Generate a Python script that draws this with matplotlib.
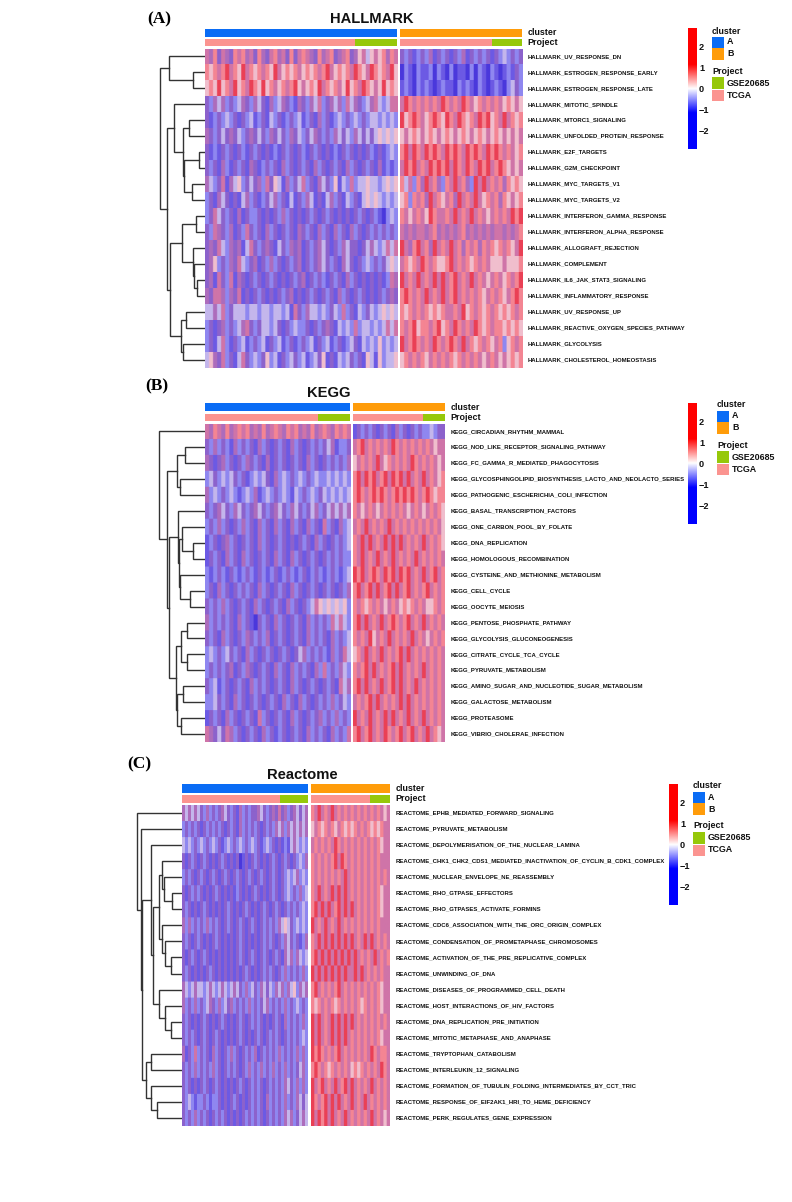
import numpy as np
import matplotlib
matplotlib.use('Agg')
import matplotlib.pyplot as plt
import matplotlib.colors as mpc

W, H = 792, 1202

SANS = ['Liberation Sans', 'DejaVu Sans']
SERIF = ['Liberation Serif', 'DejaVu Serif']

# cell shades as seen in the picture, blue end first (the source is downsampled, so stripes blend to purple)
CELL_SHADES = ['#4a38dc', '#6c5ae4', '#8f87f0', '#c4b6ec', '#8c62cc',
               '#ad6cbc', '#cf74a8', '#f0becd', '#f48593', '#ea4055']

HALLMARK_ROWS = [
    'HALLMARK_UV_RESPONSE_DN', 'HALLMARK_ESTROGEN_RESPONSE_EARLY', 'HALLMARK_ESTROGEN_RESPONSE_LATE',
    'HALLMARK_MITOTIC_SPINDLE', 'HALLMARK_MTORC1_SIGNALING', 'HALLMARK_UNFOLDED_PROTEIN_RESPONSE',
    'HALLMARK_E2F_TARGETS', 'HALLMARK_G2M_CHECKPOINT', 'HALLMARK_MYC_TARGETS_V1', 'HALLMARK_MYC_TARGETS_V2',
    'HALLMARK_INTERFERON_GAMMA_RESPONSE', 'HALLMARK_INTERFERON_ALPHA_RESPONSE', 'HALLMARK_ALLOGRAFT_REJECTION',
    'HALLMARK_COMPLEMENT', 'HALLMARK_IL6_JAK_STAT3_SIGNALING', 'HALLMARK_INFLAMMATORY_RESPONSE',
    'HALLMARK_UV_RESPONSE_UP', 'HALLMARK_REACTIVE_OXYGEN_SPECIES_PATHWAY', 'HALLMARK_GLYCOLYSIS',
    'HALLMARK_CHOLESTEROL_HOMEOSTASIS',
]
KEGG_ROWS = [
    'KEGG_CIRCADIAN_RHYTHM_MAMMAL', 'KEGG_NOD_LIKE_RECEPTOR_SIGNALING_PATHWAY', 'KEGG_FC_GAMMA_R_MEDIATED_PHAGOCYTOSIS',
    'KEGG_GLYCOSPHINGOLIPID_BIOSYNTHESIS_LACTO_AND_NEOLACTO_SERIES', 'KEGG_PATHOGENIC_ESCHERICHIA_COLI_INFECTION',
    'KEGG_BASAL_TRANSCRIPTION_FACTORS', 'KEGG_ONE_CARBON_POOL_BY_FOLATE', 'KEGG_DNA_REPLICATION',
    'KEGG_HOMOLOGOUS_RECOMBINATION', 'KEGG_CYSTEINE_AND_METHIONINE_METABOLISM', 'KEGG_CELL_CYCLE', 'KEGG_OOCYTE_MEIOSIS',
    'KEGG_PENTOSE_PHOSPHATE_PATHWAY', 'KEGG_GLYCOLYSIS_GLUCONEOGENESIS', 'KEGG_CITRATE_CYCLE_TCA_CYCLE',
    'KEGG_PYRUVATE_METABOLISM', 'KEGG_AMINO_SUGAR_AND_NUCLEOTIDE_SUGAR_METABOLISM', 'KEGG_GALACTOSE_METABOLISM',
    'KEGG_PROTEASOME', 'KEGG_VIBRIO_CHOLERAE_INFECTION',
]
REACTOME_ROWS = [
    'REACTOME_EPHB_MEDIATED_FORWARD_SIGNALING', 'REACTOME_PYRUVATE_METABOLISM',
    'REACTOME_DEPOLYMERISATION_OF_THE_NUCLEAR_LAMINA',
    'REACTOME_CHK1_CHK2_CDS1_MEDIATED_INACTIVATION_OF_CYCLIN_B_CDK1_COMPLEX', 'REACTOME_NUCLEAR_ENVELOPE_NE_REASSEMBLY',
    'REACTOME_RHO_GTPASE_EFFECTORS', 'REACTOME_RHO_GTPASES_ACTIVATE_FORMINS',
    'REACTOME_CDC6_ASSOCIATION_WITH_THE_ORC_ORIGIN_COMPLEX', 'REACTOME_CONDENSATION_OF_PROMETAPHASE_CHROMOSOMES',
    'REACTOME_ACTIVATION_OF_THE_PRE_REPLICATIVE_COMPLEX', 'REACTOME_UNWINDING_OF_DNA',
    'REACTOME_DISEASES_OF_PROGRAMMED_CELL_DEATH', 'REACTOME_HOST_INTERACTIONS_OF_HIV_FACTORS',
    'REACTOME_DNA_REPLICATION_PRE_INITIATION', 'REACTOME_MITOTIC_METAPHASE_AND_ANAPHASE',
    'REACTOME_TRYPTOPHAN_CATABOLISM', 'REACTOME_INTERLEUKIN_12_SIGNALING',
    'REACTOME_FORMATION_OF_TUBULIN_FOLDING_INTERMEDIATES_BY_CCT_TRIC',
    'REACTOME_RESPONSE_OF_EIF2AK1_HRI_TO_HEME_DEFICIENCY', 'REACTOME_PERK_REGULATES_GENE_EXPRESSION',
]

HALLMARK_A = [
    '658465 486856 485468 564846 865485 684568 457637 678586',
    '878689 687968 786879 678786 787868 967878 698769 878697',
    '787978 697869 879786 786897 678796 878679 786987 679787',
    '425352 423542 534152 354215 425362 453526 354235 632366',
    '412423 241423 124132 412423 124152 412324 232423 323232',
    '542434 543245 434254 342543 243542 425343 253434 373737',
    '412142 414214 241412 142414 214241 412142 414142 141232',
    '424152 142415 412424 152414 241524 142415 241424 151212',
    '532461 537243 452647 315243 624153 427132 623373 323737',
    '241534 141352 412435 241314 253141 352413 241373 732323',
    '246342 415142 241414 252414 142414 241414 142414 210232',
    '426542 514264 241524 142415 424152 415241 524142 424242',
    '454632 545136 424541 342545 142453 414253 441435 323636',
    '457242 546324 514252 414245 142453 424153 414232 424373',
    '451642 615414 241424 141424 514242 142415 241414 141265',
    '546652 546141 424141 424514 142414 241524 142414 142454',
    '335362 433323 323323 323164 253323 243262 413243 237373',
    '241452 423564 243323 414232 241424 541323 262332 323636',
    '241362 142312 423142 312412 423142 312412 341323 272323',
    '375462 413642 324723 142342 312347 141323 424173 172337',
]
HALLMARK_B = [
    '424124 251424 142514 242414 232424',
    '021021 120210 201102 021021 012142',
    '121021 210121 102121 021012 102342',
    '698686 868698 686986 786868 678767',
    '978986 789879 869878 698978 696878',
    '767876 787678 767876 787678 767676',
    '896986 989869 898698 986989 868678',
    '698968 698989 698698 698968 987676',
    '836285 968528 696852 969686 858787',
    '782868 596876 859686 967868 587678',
    '867686 798668 696869 686768 686989',
    '656566 568565 656856 565656 656568',
    '965896 859686 968586 858687 868769',
    '687869 868778 968687 868677 767778',
    '968696 869696 896869 686768 678689',
    '898686 968696 896868 687686 876898',
    '878686 878786 686978 687868 787868',
    '868978 868978 698686 987868 878787',
    '968986 869868 986968 786876 827868',
    '786868 768686 878686 867686 767878',
]
KEGG_A = [
    '658658 568685 658568 658685 658568 658686',
    '425242 152424 152414 241524 142424 351224',
    '541452 414254 241514 241424 152414 242425',
    '234232 342412 323415 232423 242322 323232',
    '523242 321232 512324 232132 423243 232323',
    '424534 253424 534245 342534 243524 353535',
    '242524 142524 152415 241524 152416 241523',
    '124145 241424 152414 241414 241524 142423',
    '142415 241524 142415 241524 142414 242422',
    '212421 421242 142124 124212 412421 242123',
    '241524 142424 152414 241524 142414 241425',
    '424252 414241 524142 415241 423673 737372',
    '524242 415241 042415 241424 152424 263632',
    '424152 414254 242514 241424 152424 152423',
    '232423 424152 414241 424143 524242 152463',
    '242424 514254 142415 241524 241526 242532',
    '423124 142415 242414 241524 142414 241635',
    '223424 152414 241424 152415 241424 252432',
    '142415 241424 162414 241524 142452 425242',
    '654346 524142 415241 241424 152424 152426',
]
KEGG_B = [
    '142424 142415 241424 223244',
    '689686 868698 686868 686766',
    '768686 967868 686986 868676',
    '896989 689698 969686 968678',
    '898689 898689 898986 898788',
    '867686 768686 867686 768687',
    '686968 686968 686868 686867',
    '869696 869696 968686 968687',
    '869686 968696 868696 868686',
    '989689 869896 989686 968968',
    '896896 968969 689686 896868',
    '868786 867686 787868 677868',
    '896968 696898 689686 968686',
    '868697 686968 686968 676868',
    '786968 696868 969686 868686',
    '868969 686896 968686 968686',
    '896968 696896 968696 868686',
    '686896 968686 969686 868686',
    '968696 869696 869686 968686',
    '896896 869868 968968 696876',
]
REACTOME_A = [
    '535353 425242 453424 152424 453424 546452 453435',
    '242424 142424 241424 152424 241424 253525 353535',
    '323242 324232 412324 232423 241232 414121 353232',
    '414241 424141 424141 401414 241414 241424 142325',
    '242414 241424 142414 241424 142414 241423 235232',
    '414242 414142 414141 241414 241414 241423 242523',
    '424141 424141 414241 414241 414241 424142 424232',
    '525242 425242 414241 424142 414242 425373 423232',
    '424142 414142 414141 424141 414242 414253 424125',
    '414241 424141 414141 424142 414241 424153 525323',
    '424141 414241 414141 414241 414242 414252 424252',
    '532353 323532 353235 342523 425343 253525 372535',
    '524252 423542 523452 424252 424352 424252 423242',
    '424141 424141 424141 424142 424141 424152 424252',
    '424241 424142 414141 424141 424142 424142 424232',
    '514262 424152 414252 414242 514242 425242 425252',
    '424252 424252 414242 414252 425242 524252 424352',
    '424141 424142 414141 424142 424142 424253 425252',
    '423212 242122 414142 414142 424152 424252 425343',
    '424252 424142 424141 414242 424142 424253 524353',
]
REACTOME_B = [
    '869686 968686 868686 868676',
    '768786 876878 786868 787866',
    '686868 698686 868686 868766',
    '868686 896986 868686 868666',
    '868686 868696 868686 868686',
    '869686 969696 868686 868766',
    '896969 689696 968686 868766',
    '968696 869686 868686 868666',
    '869696 969696 968696 968686',
    '896969 696969 696868 696868',
    '969696 969696 696968 686866',
    '896868 689686 868686 868766',
    '878686 878686 868786 868766',
    '969686 969696 968686 868686',
    '969686 969696 868686 868766',
    '989868 689686 868686 986886',
    '898687 868686 787868 686986',
    '968968 696896 968686 968686',
    '986896 969686 968696 868686',
    '969896 968696 868686 968676',
]

# dendrograms as nested (height, left, right), leaves are row numbers
HALLMARK_TREE = (45, (36, 0, (12, 1, 2)),
                 (38, (31, 3, (22, (16, 4, 5), (21, (6, 6, 7), (13, 8, 9)))),
                  (35, (23, (9, 10, 11), (12, 12, (11, 13, (8, 14, 15)))),
                   (24, (19, 16, 17), (22, 18, 19)))))
KEGG_TREE = (46, 0,
             (38, (28, (20, 1, 2), (25, 3, 4)),
              (36, (27, 5, (26, (23, 6, (12, 7, 8)), (25, 9, (15, 10, 11)))),
               (29, (24, (18, 12, 13), (18.5, 14, 15)), (28, (22, 16, 17), (24, 18, 19))))))
REACTOME_TREE = (45, 0,
                 (41, 1,
                  (40, (31, 2,
                        (29, (23, (20, 3, (18, 4, (10, 5, 6))), (20, 7, (17, 8, (11, 9, 10)))),
                         (23, 11, (17, 12, (11, 13, 14))))),
                   (36, (31, 15, 16), (31, 17, (25, 18, 19))))))

# sample counts in each block: (TCGA, GSE20685)
HALLMARK_PROJECT = [(150, 42), (92, 30)]
KEGG_PROJECT = [(113, 32), (70, 22)]
REACTOME_PROJECT = [(98, 28), (59, 20)]

CLUSTER_COLORS = ['#0a6cf5', '#ff9c0a']
PROJECT_COLORS = ['#fb9490', '#96c80a']
LEGEND_CLUSTER = ['A', 'B']
LEGEND_PROJECT = ['GSE20685', 'TCGA']
BAR_TICKS = [2, 1, 0, -1, -2]
BAR_RANGE = 2.9


def px_axes(fig, x0, y0, x1, y1):
    return fig.add_axes([x0 / W, 1 - y1 / H, (x1 - x0) / W, (y1 - y0) / H])


def px_text(fig, x, y, s, size, family=SANS, weight='bold', ha='left', color='#111111'):
    fig.text(x / W, 1 - y / H, s, fontsize=size, family=family, weight=weight, ha=ha, va='center', color=color)


def read_rows(rows):
    return np.array([[int(c) for c in row.replace(' ', '')] for row in rows])


def draw_tree(ax, node):
    # returns (row position, height) of the node
    if not isinstance(node, tuple):
        return node + 0.5, 0
    height, left, right = node
    y_l, h_l = draw_tree(ax, left)
    y_r, h_r = draw_tree(ax, right)
    ax.plot([h_l, height, height, h_r], [y_l, y_l, y_r, y_r], color='#333333', lw=1.0, solid_joinstyle='miter')
    return (y_l + y_r) / 2, height


def draw_heat_block(fig, values, cmap, x0, x1, y0, y1):
    ax = px_axes(fig, x0, y0, x1, y1)
    # rows repeated so the blur only softens the stripes, not the row edges; columns a little to keep them crisp
    big = np.repeat(np.repeat(values, 16, axis=0), 3, axis=1)
    ax.imshow(big, cmap=cmap, vmin=-0.5, vmax=9.5, aspect='auto',
              interpolation='bilinear', interpolation_stage='rgba')
    ax.axis('off')


def draw_annotation(fig, counts, colors, x0, x1, y0, y1):
    ax = px_axes(fig, x0, y0, x1, y1)
    left = 0
    for count, color in zip(counts, colors):
        ax.barh(0, count, left=left, height=1, color=color, lw=0)
        left += count
    ax.set_xlim(0, left)
    ax.set_ylim(-0.5, 0.5)
    ax.axis('off')


def draw_colorbar(fig, x0, y0, cmap):
    ax = px_axes(fig, x0, y0, x0 + 8.5, y0 + 121)
    grad = np.linspace(BAR_RANGE, -BAR_RANGE, 256).reshape(-1, 1)
    ax.imshow(grad, cmap=cmap, vmin=-BAR_RANGE, vmax=BAR_RANGE, aspect='auto',
              extent=[0, 1, -BAR_RANGE, BAR_RANGE])
    ax.set_xticks([])
    ax.yaxis.tick_right()
    ax.set_yticks(BAR_TICKS)
    ax.set_yticklabels([str(t).replace('-', '\u2212') for t in BAR_TICKS], family=SANS, weight='bold',
                       fontsize=6.6, color='#111111')
    ax.tick_params(axis='y', length=0, pad=2.2)
    for spine in ax.spines.values():
        spine.set_visible(False)


def draw_legend(fig, x, y):
    ax = px_axes(fig, x, y, x + 12, y + 70)
    ax.set_xlim(0, 1)
    ax.set_ylim(70, 0)
    ax.axis('off')
    ax.bar(0.5, 11.5, bottom=[5.5, 17], width=1, color=CLUSTER_COLORS, lw=0)
    ax.bar(0.5, 11.5, bottom=[46, 58.5], width=1, color=PROJECT_COLORS[::-1], lw=0)
    px_text(fig, x, y, 'cluster', 6.4)
    px_text(fig, x, y + 40, 'Project', 6.4)
    for name, off in zip(LEGEND_CLUSTER, [11, 23]):
        px_text(fig, x + 15, y + off, name, 6.4)
    for name, off in zip(LEGEND_PROJECT, [52, 64]):
        px_text(fig, x + 15, y + off, name, 6.4)


def draw_panel(fig, cfg, shades, bar_cmap):
    x0, x1 = cfg['left']
    x2, x3 = cfg['right']
    y0, y1 = cfg['rows_y']
    draw_heat_block(fig, read_rows(cfg['a']), shades, x0, x1, y0, y1)
    draw_heat_block(fig, read_rows(cfg['b']), shades, x2, x3, y0, y1)

    ay0, ay1, by0, by1 = cfg['annot_y']
    for (xa, xb), color, counts in zip((cfg['left'], cfg['right']), CLUSTER_COLORS, cfg['project']):
        draw_annotation(fig, [sum(counts)], [color], xa, xb, ay0, ay1)
        draw_annotation(fig, counts, PROJECT_COLORS, xa, xb, by0, by1)

    # tree axis uses the height units directly, zero at the heatmap edge
    tree = px_axes(fig, x0 - 48, y0, x0, y1)
    draw_tree(tree, cfg['tree'])
    tree.set_xlim(48, 0)
    tree.set_ylim(len(cfg['rows']), 0)
    tree.axis('off')

    lab_x = x3 + 5.5
    step = (y1 - y0) / len(cfg['rows'])
    for i, name in enumerate(cfg['rows']):
        px_text(fig, lab_x, y0 + (i + 0.5) * step, name, 4.3)
    px_text(fig, lab_x, (ay0 + ay1) / 2, 'cluster', 6.4)
    px_text(fig, lab_x, (by0 + by1) / 2, 'Project', 6.4)

    px_text(fig, cfg['title_xy'][0], cfg['title_xy'][1], cfg['title'], 10.6, ha='center')
    px_text(fig, cfg['tag_xy'][0], cfg['tag_xy'][1], cfg['tag'], 12.5, family=SERIF, color='black')
    draw_colorbar(fig, cfg['bar_xy'][0], cfg['bar_xy'][1], bar_cmap)
    draw_legend(fig, cfg['legend_xy'][0], cfg['legend_xy'][1])


def main():
    shades = mpc.ListedColormap(CELL_SHADES)
    bar_cmap = mpc.LinearSegmentedColormap.from_list(
        'bwr_bar', [(0, '#0000ff'), (0.3, '#0000ff'), (0.5, '#ffffff'), (0.7, '#ff0000'), (1, '#ff0000')])

    panels = [
        dict(a=HALLMARK_A, b=HALLMARK_B, rows=HALLMARK_ROWS, tree=HALLMARK_TREE, project=HALLMARK_PROJECT,
             left=(205, 397), right=(400, 522), rows_y=(48.5, 368), annot_y=(29, 36.5, 38.5, 46),
             title='HALLMARK', title_xy=(372, 19), tag='(A)', tag_xy=(147, 19),
             bar_xy=(687.5, 28), legend_xy=(712, 31)),
        dict(a=KEGG_A, b=KEGG_B, rows=KEGG_ROWS, tree=KEGG_TREE, project=KEGG_PROJECT,
             left=(205, 350), right=(353, 445), rows_y=(423.5, 742), annot_y=(403.5, 411, 413.5, 421),
             title='KEGG', title_xy=(329, 393), tag='(B)', tag_xy=(145, 386),
             bar_xy=(687.5, 403), legend_xy=(717, 405)),
        dict(a=REACTOME_A, b=REACTOME_B, rows=REACTOME_ROWS, tree=REACTOME_TREE, project=REACTOME_PROJECT,
             left=(182, 308), right=(311, 390), rows_y=(805, 1126), annot_y=(784, 792.5, 794.5, 802.5),
             title='Reactome', title_xy=(302, 775), tag='(C)', tag_xy=(127, 764),
             bar_xy=(668.5, 784), legend_xy=(693, 786)),
    ]

    fig = plt.figure(figsize=(W / 100, H / 100), dpi=100, facecolor='white')
    for cfg in panels:
        draw_panel(fig, cfg, shades, bar_cmap)
    fig.savefig('out.png', dpi=100, facecolor='white')


if __name__ == '__main__':
    main()
